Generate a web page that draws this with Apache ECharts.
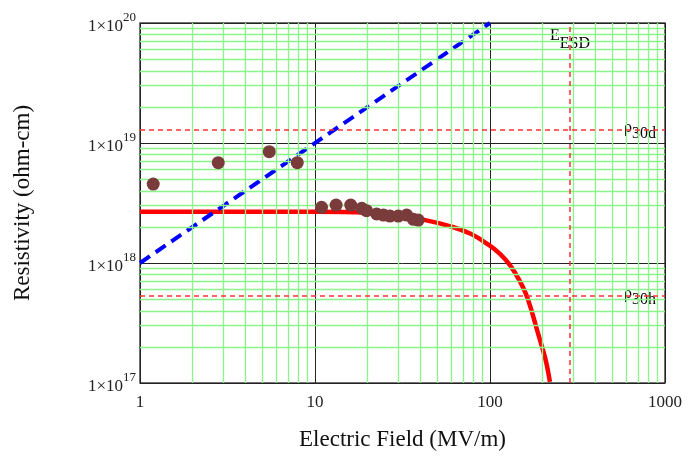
<!DOCTYPE html>
<html>
<head>
<meta charset="utf-8">
<script src="https://cdn.jsdelivr.net/npm/echarts@6/dist/echarts.min.js"></script>
<style>
  html, body { margin: 0; padding: 0; background: #fff; }
  #chart { width: 688px; height: 462px; }
</style>
</head>
<body>
<div id="chart"></div>
<script>
// measured resistivity points (field MV/m, resistivity ohm-cm)
const measuredE = [1.19, 2.8, 5.48, 7.92, 10.9, 13.2, 16.0, 18.5, 19.7, 22.5, 24.6, 26.8, 29.9, 33.4, 36.5, 38.9]
const measuredRho = [4.55e18, 6.85e18, 8.46e18, 6.85e18, 2.91e18, 3.04e18, 3.04e18, 2.86e18, 2.73e18,
  2.56e18, 2.51e18, 2.46e18, 2.46e18, 2.51e18, 2.31e18, 2.28e18]

// model curve (red)
const modelE = [1, 10, 20, 30, 41.4, 59.5, 77, 98, 114, 130, 147, 163, 188, 208, 220]
const modelRho = [2.67e18, 2.67e18, 2.62e18, 2.47e18, 2.3e18, 2.02e18, 1.76e18, 1.42e18, 1.19e18,
  9.6e17, 7.2e17, 5.2e17, 2.6e17, 1.55e17, 1.02e17]

// blue dashed reference line
const lineE = [1, 100]
const lineRho = [1e18, 1e20]

// thresholds
const rho30d = 1.28e19
const rho30h = 5.34e17
const eESD = 286

// minor grid positions
const xMinor = [2, 3, 4, 5, 6, 7, 8, 9, 20, 30, 40, 50, 60, 70, 80, 90, 200, 300, 400, 500, 600, 700, 800, 900]
const yMinor = [2e17, 3e17, 4e17, 5e17, 6e17, 7e17, 8e17, 9e17, 2e18, 3e18, 4e18, 5e18, 6e18, 7e18, 8e18, 9e18,
  2e19, 3e19, 4e19, 5e19, 6e19, 7e19, 8e19, 9e19]

const serif = '"Liberation Serif", "DejaVu Serif", serif'
const chart = echarts.init(document.getElementById('chart'))

const minorLines = []
xMinor.forEach(v => minorLines.push({ xAxis: v }))
yMinor.forEach(v => minorLines.push({ yAxis: v }))

function subLabel(main, sub, lh) {
  return {
    text: '{m|' + main + '}{sub|' + sub + '}',
    rich: {
      m: { fontFamily: serif, fontSize: 16, color: '#111', lineHeight: lh, verticalAlign: 'top' },
      sub: { fontFamily: serif, fontSize: 16, color: '#111', lineHeight: lh, verticalAlign: 'bottom' }
    }
  }
}

chart.setOption({
  animation: false,
  grid: { left: 140, right: 23, top: 23, bottom: 79, show: true, borderColor: '#444', borderWidth: 1.5 },
  xAxis: {
    type: 'log', logBase: 10, min: 1, max: 1000,
    name: 'Electric Field (MV/m)', nameLocation: 'middle', nameGap: 45,
    nameTextStyle: { fontFamily: serif, fontSize: 23, color: '#111' },
    axisLine: { show: false }, axisTick: { show: false },
    axisLabel: { fontFamily: serif, fontSize: 17, color: '#222', margin: 11, formatter: v => String(v) },
    splitLine: { show: true, lineStyle: { color: '#222', width: 1 } }
  },
  yAxis: {
    type: 'log', logBase: 10, min: 1e17, max: 1e20,
    name: 'Resistivity (ohm-cm)', nameLocation: 'middle', nameGap: 106,
    nameTextStyle: { fontFamily: serif, fontSize: 23, color: '#111' },
    axisLine: { show: false }, axisTick: { show: false },
    axisLabel: {
      margin: 4,
      formatter: v => '{b|1×10}{s|' + Math.round(Math.log10(v)) + '}',
      rich: {
        b: { fontFamily: serif, fontSize: 17, color: '#222', lineHeight: 24, verticalAlign: 'bottom' },
        s: { fontFamily: serif, fontSize: 13, color: '#222', lineHeight: 24, verticalAlign: 'top' }
      }
    },
    splitLine: { show: true, lineStyle: { color: '#222', width: 1 } }
  },
  series: [
    {
      type: 'line', data: [], z: 1, silent: true,
      markLine: {
        silent: true, symbol: 'none', label: { show: false }, animation: false,
        lineStyle: { color: '#8af58a', width: 1.3, type: 'solid' },
        data: minorLines
      }
    },
    {
      type: 'line', data: [], z: 2, silent: true,
      markLine: {
        silent: true, symbol: 'none', label: { show: false }, animation: false,
        lineStyle: { color: '#ff3030', width: 1.5, type: [5, 4] },
        data: [{ yAxis: rho30d }, { yAxis: rho30h }, { xAxis: eESD }]
      }
    },
    {
      type: 'line', z: 3, showSymbol: false, smooth: 0.4,
      data: modelE.map((e, i) => [e, modelRho[i]]),
      lineStyle: { color: '#ff0000', width: 4.5 }
    },
    {
      type: 'line', z: 4, showSymbol: false,
      data: lineE.map((e, i) => [e, lineRho[i]]),
      lineStyle: { color: '#0000ff', width: 4, type: [12, 7] }
    },
    {
      type: 'scatter', z: 5, symbolSize: 13,
      data: measuredE.map((e, i) => [e, measuredRho[i]]),
      itemStyle: { color: '#7a3b3b', opacity: 1 }
    }
  ],
  graphic: [
    { type: 'text', left: 550, top: 28, style: subLabel('E', 'ESD', 24) },
    { type: 'text', left: 624, top: 120, style: subLabel('ρ', '30d', 22) },
    { type: 'text', left: 624, top: 286, style: subLabel('ρ', '30h', 22) }
  ]
})
</script>
</body>
</html>
